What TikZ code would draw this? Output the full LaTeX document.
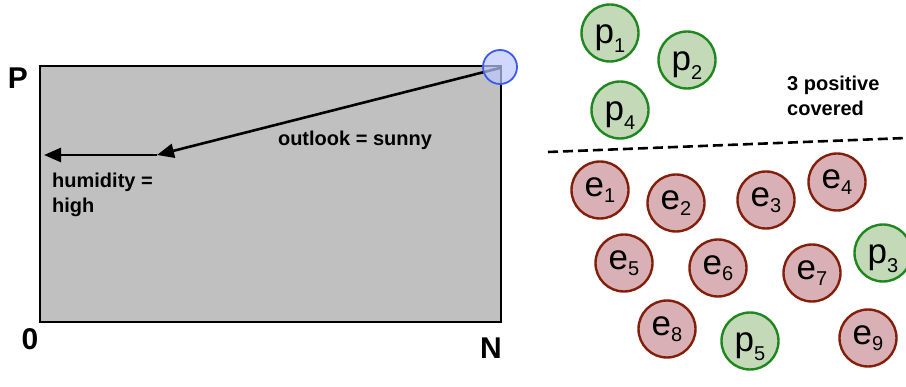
\documentclass[tikz,border=0pt]{standalone}
\usepackage{fontspec}
\setmainfont{Liberation Sans}
\usetikzlibrary{arrows.meta}
\definecolor{rectgray}{RGB}{192,192,192}
\definecolor{posfill}{RGB}{195,217,184}
\definecolor{posdraw}{RGB}{30,135,30}
\definecolor{negfill}{RGB}{216,176,182}
\definecolor{negdraw}{RGB}{130,30,10}
\definecolor{bluefill}{RGB}{190,200,255}
\definecolor{bluedraw}{RGB}{60,90,240}
\newcommand{\elab}[1]{{\fontsize{35}{35}\selectfont e}\raisebox{-6pt}{\fontsize{20}{20}\selectfont #1}}
\newcommand{\plab}[1]{{\fontsize{35}{35}\selectfont p}\raisebox{-9pt}{\fontsize{20}{20}\selectfont #1}}
\tikzset{
  ball/.style={circle, minimum size=57pt, inner sep=0pt, line width=2.4pt},
  posball/.style={ball, fill=posfill, draw=posdraw, text height=22pt, text depth=0pt},
  negball/.style={ball, fill=negfill, draw=negdraw, text height=18pt, text depth=4pt},
  bigletter/.style={font=\bfseries\fontsize{30}{30}\selectfont, inner sep=0pt},
  boldtxt/.style={font=\bfseries\fontsize{20}{25}\selectfont, inner sep=0pt, align=left},
  arr/.style={line width=2.6pt, -{Triangle[length=17pt,width=14pt]}},
}
\begin{document}
\begin{tikzpicture}[x=1pt,y=-1pt]
\useasboundingbox (0,0) rectangle (906,387);
% box
\draw[line width=2.3pt, fill=rectgray] (40,66) rectangle (501,322);
\coordinate (corner) at (500,68);
\coordinate (mid) at (157,155);
\coordinate (left) at (44,155);
\draw[arr] (corner) -- (mid);
\draw[arr] (mid) -- (left);
\node[circle, minimum size=34pt, inner sep=0pt, fill=bluefill, fill opacity=0.7, draw=bluedraw, line width=1.8pt] (start) at (500,67) {};
% axis labels
\node[bigletter] (P) at (18,78) {P};
\node[bigletter] (zero) at (30,339) {0};
\node[bigletter] (N) at (491,348) {N};
\node[boldtxt] (outlook) at (355,140) {outlook = sunny};
\node[boldtxt, anchor=north west] (hum) at (52,173) {humidity =\\high};
% positives above
\node[posball] (p1) at (610,33) {\plab{1}};
\node[posball] (p2) at (687,60) {\plab{2}};
\node[posball] (p4) at (620,110) {\plab{4}};
\node[boldtxt, anchor=north west] (cov) at (787,76) {3 positive\\covered};
\coordinate (dl) at (548,152);
\coordinate (dr) at (906,138);
\draw[line width=2.6pt, dash pattern=on 10pt off 5pt] (dl) -- (dr);
% below
\node[negball] (e1) at (600,190) {\elab{1}};
\node[negball] (e2) at (676,203) {\elab{2}};
\node[negball] (e3) at (766,200) {\elab{3}};
\node[negball] (e4) at (837,182) {\elab{4}};
\node[negball] (e5) at (624,263) {\elab{5}};
\node[negball] (e6) at (718,268) {\elab{6}};
\node[negball] (e7) at (812,273) {\elab{7}};
\node[posball] (p3) at (883,253) {\plab{3}};
\node[negball] (e8) at (667,329) {\elab{8}};
\node[posball] (p5) at (750,341) {\plab{5}};
\node[negball] (e9) at (868,338) {\elab{9}};
\end{tikzpicture}
\end{document}
